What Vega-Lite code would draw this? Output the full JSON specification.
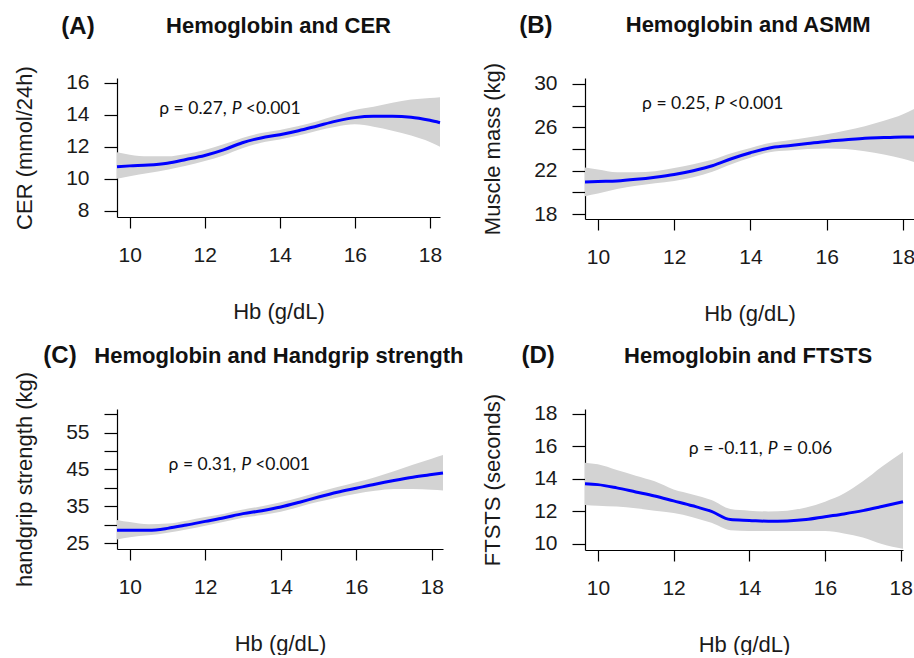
{
  "$schema": "https://vega.github.io/schema/vega-lite/v6.json",
  "padding": {"left": 13, "top": 14, "right": 0, "bottom": 0},
  "background": "white",
  "config": {
    "view": {"stroke": null},
    "font": "Liberation Sans",
    "axis": {"grid": false, "domainColor": "#000", "tickColor": "#000", "domainWidth": 1.2, "tickWidth": 1.2, "labelColor": "#1a1a1a", "titleColor": "#1a1a1a", "labelFont": "Liberation Sans", "titleFont": "Liberation Sans", "labelFontSize": 21, "titleFontSize": 22, "titleFontWeight": "normal", "labelOverlap": false, "labelFlush": false, "tickCount": 20},
    "axisX": {"tickSize": 11, "labelPadding": 16, "titlePadding": 36},
    "axisY": {"tickSize": 13, "labelPadding": 15, "titlePadding": 29}
  },
  "datasets": {
    "cer": [
      {"hb": 9.66, "fit": 10.75, "lo": 10.0, "hi": 11.65},
      {"hb": 10.0, "fit": 10.8, "lo": 10.15, "hi": 11.5},
      {"hb": 10.5, "fit": 10.85, "lo": 10.35, "hi": 11.4},
      {"hb": 11.0, "fit": 10.97, "lo": 10.55, "hi": 11.4},
      {"hb": 11.5, "fit": 11.2, "lo": 10.8, "hi": 11.55},
      {"hb": 12.0, "fit": 11.45, "lo": 11.1, "hi": 11.8},
      {"hb": 12.5, "fit": 11.8, "lo": 11.45, "hi": 12.15},
      {"hb": 13.0, "fit": 12.25, "lo": 11.9, "hi": 12.55},
      {"hb": 13.5, "fit": 12.55, "lo": 12.25, "hi": 12.85},
      {"hb": 14.0, "fit": 12.75, "lo": 12.45, "hi": 13.05},
      {"hb": 14.5, "fit": 13.0, "lo": 12.7, "hi": 13.3},
      {"hb": 15.0, "fit": 13.3, "lo": 13.0, "hi": 13.6},
      {"hb": 15.5, "fit": 13.6, "lo": 13.25, "hi": 13.95},
      {"hb": 16.0, "fit": 13.82, "lo": 13.4, "hi": 14.3},
      {"hb": 16.5, "fit": 13.9, "lo": 13.25, "hi": 14.5},
      {"hb": 17.0, "fit": 13.9, "lo": 13.0, "hi": 14.75},
      {"hb": 17.5, "fit": 13.85, "lo": 12.7, "hi": 14.95},
      {"hb": 18.0, "fit": 13.65, "lo": 12.3, "hi": 15.05},
      {"hb": 18.27, "fit": 13.5, "lo": 12.0, "hi": 15.1}
    ],
    "asmm": [
      {"hb": 9.66, "fit": 20.95, "lo": 19.65, "hi": 22.3},
      {"hb": 10.0, "fit": 21.0, "lo": 19.9, "hi": 22.1},
      {"hb": 10.5, "fit": 21.05, "lo": 20.3, "hi": 21.85},
      {"hb": 11.0, "fit": 21.2, "lo": 20.6, "hi": 21.85},
      {"hb": 11.5, "fit": 21.4, "lo": 20.85, "hi": 21.95},
      {"hb": 12.0, "fit": 21.65, "lo": 21.05, "hi": 22.25},
      {"hb": 12.5, "fit": 22.0, "lo": 21.4, "hi": 22.6},
      {"hb": 13.0, "fit": 22.45, "lo": 21.9, "hi": 23.0},
      {"hb": 13.5, "fit": 23.1, "lo": 22.6, "hi": 23.6},
      {"hb": 14.0, "fit": 23.65, "lo": 23.2, "hi": 24.1},
      {"hb": 14.5, "fit": 24.1, "lo": 23.7, "hi": 24.55},
      {"hb": 15.0, "fit": 24.3, "lo": 23.85, "hi": 24.8},
      {"hb": 15.5, "fit": 24.5, "lo": 24.0, "hi": 25.05},
      {"hb": 16.0, "fit": 24.7, "lo": 24.05, "hi": 25.35},
      {"hb": 16.5, "fit": 24.85, "lo": 24.0, "hi": 25.7},
      {"hb": 17.0, "fit": 25.0, "lo": 23.8, "hi": 26.1},
      {"hb": 17.5, "fit": 25.05, "lo": 23.5, "hi": 26.6},
      {"hb": 18.0, "fit": 25.1, "lo": 23.1, "hi": 27.2},
      {"hb": 18.29, "fit": 25.1, "lo": 22.8, "hi": 27.7}
    ],
    "hgs": [
      {"hb": 9.66, "fit": 28.5, "lo": 26.0, "hi": 31.3},
      {"hb": 10.0, "fit": 28.5, "lo": 26.6, "hi": 30.7},
      {"hb": 10.5, "fit": 28.5, "lo": 27.1, "hi": 30.1},
      {"hb": 11.0, "fit": 29.0, "lo": 27.8, "hi": 30.3},
      {"hb": 11.5, "fit": 29.9, "lo": 28.7, "hi": 31.1},
      {"hb": 12.0, "fit": 30.9, "lo": 29.7, "hi": 32.1},
      {"hb": 12.5, "fit": 31.9, "lo": 30.8, "hi": 33.0},
      {"hb": 13.0, "fit": 33.0, "lo": 31.9, "hi": 34.1},
      {"hb": 13.5, "fit": 33.8, "lo": 32.6, "hi": 35.0},
      {"hb": 14.0, "fit": 34.8, "lo": 33.5, "hi": 36.1},
      {"hb": 14.5, "fit": 36.1, "lo": 34.9, "hi": 37.4},
      {"hb": 15.0, "fit": 37.5, "lo": 36.2, "hi": 38.8},
      {"hb": 15.5, "fit": 38.8, "lo": 37.4, "hi": 40.2},
      {"hb": 16.0, "fit": 39.9, "lo": 38.4, "hi": 41.5},
      {"hb": 16.5, "fit": 41.0, "lo": 39.2, "hi": 42.9},
      {"hb": 17.0, "fit": 42.0, "lo": 39.7, "hi": 44.5},
      {"hb": 17.5, "fit": 42.9, "lo": 39.7, "hi": 46.3},
      {"hb": 18.0, "fit": 43.6, "lo": 39.5, "hi": 47.9},
      {"hb": 18.3, "fit": 44.0, "lo": 39.3, "hi": 48.9}
    ],
    "ftsts": [
      {"hb": 9.66, "fit": 13.7, "lo": 12.4, "hi": 15.0},
      {"hb": 10.0, "fit": 13.65, "lo": 12.35, "hi": 14.9},
      {"hb": 10.5, "fit": 13.45, "lo": 12.3, "hi": 14.55},
      {"hb": 11.0, "fit": 13.2, "lo": 12.2, "hi": 14.2},
      {"hb": 11.5, "fit": 12.95, "lo": 12.05, "hi": 13.85},
      {"hb": 12.0, "fit": 12.65, "lo": 11.9, "hi": 13.35},
      {"hb": 12.5, "fit": 12.35, "lo": 11.65, "hi": 13.05},
      {"hb": 13.0, "fit": 12.0, "lo": 11.3, "hi": 12.7},
      {"hb": 13.5, "fit": 11.5, "lo": 10.85, "hi": 12.15},
      {"hb": 14.0, "fit": 11.45, "lo": 10.8, "hi": 12.05},
      {"hb": 14.5, "fit": 11.4, "lo": 10.8, "hi": 12.0},
      {"hb": 15.0, "fit": 11.42, "lo": 10.8, "hi": 12.05},
      {"hb": 15.5, "fit": 11.5, "lo": 10.8, "hi": 12.25},
      {"hb": 16.0, "fit": 11.68, "lo": 10.8, "hi": 12.6},
      {"hb": 16.5, "fit": 11.85, "lo": 10.65, "hi": 13.1},
      {"hb": 17.0, "fit": 12.05, "lo": 10.4, "hi": 13.85},
      {"hb": 17.5, "fit": 12.3, "lo": 10.0, "hi": 14.75},
      {"hb": 18.06, "fit": 12.6, "lo": 9.7, "hi": 15.65}
    ]
  },
  "columns": 2,
  "bounds": "flush",
  "spacing": {"row": 190, "column": 142},
  "concat": [
    {
      "width": 323, "height": 139,
      "layer": [
        {"data": {"name": "cer"}, "mark": {"type": "area", "color": "#d3d3d3", "interpolate": "monotone"},
         "encoding": {
           "x": {"field": "hb", "type": "quantitative", "title": "Hb (g/dL)", "scale": {"domain": [9.66, 18.27], "nice": false, "zero": false}, "axis": {"values": [10, 12, 14, 16, 18], "format": "d", "tickCount": 20, "labelOverlap": false}},
           "y": {"field": "lo", "type": "quantitative", "title": "CER (mmol/24h)", "scale": {"domain": [7.6, 16.3], "nice": false, "zero": false}, "axis": {"values": [8, 10, 12, 14, 16], "format": "d", "tickCount": 20, "labelOverlap": false}},
           "y2": {"field": "hi"}}},
        {"data": {"name": "cer"}, "mark": {"type": "line", "color": "#0000ff", "strokeWidth": 3, "interpolate": "monotone"},
         "encoding": {
           "x": {"field": "hb", "type": "quantitative", "title": "Hb (g/dL)", "axis": {"values": [10, 12, 14, 16, 18], "format": "d", "tickCount": 20, "labelOverlap": false}},
           "y": {"field": "fit", "type": "quantitative", "title": "CER (mmol/24h)", "axis": {"values": [8, 10, 12, 14, 16], "format": "d", "tickCount": 20, "labelOverlap": false}}}},
        {"data": {"values": [{"t": "(A)"}]}, "mark": {"type": "text", "fontSize": 24, "fontWeight": "bold", "align": "center", "baseline": "alphabetic", "color": "#111"},
         "encoding": {"x": {"datum": 8.62}, "y": {"datum": 19.05}, "text": {"field": "t"}}},
        {"data": {"values": [{"t": "Hemoglobin and CER"}]}, "mark": {"type": "text", "fontSize": 22, "fontWeight": "bold", "align": "center", "baseline": "alphabetic", "color": "#111"},
         "encoding": {"x": {"datum": 13.965}, "y": {"datum": 19.11}, "text": {"field": "t"}}},
        {"data": {"values": [{"t": "ρ = 0.27,"}]}, "mark": {"type": "text", "font": "Lato", "fontSize": 17.5, "align": "right", "baseline": "alphabetic", "dx": -5, "color": "#111"},
         "encoding": {"x": {"datum": 12.72}, "y": {"datum": 14.05}, "text": {"field": "t"}}},
        {"data": {"values": [{"t": "P"}]}, "mark": {"type": "text", "font": "Lato", "fontSize": 17.5, "fontStyle": "italic", "align": "left", "baseline": "alphabetic", "color": "#111"},
         "encoding": {"x": {"datum": 12.72}, "y": {"datum": 14.05}, "text": {"field": "t"}}},
        {"data": {"values": [{"t": "<0.001"}]}, "mark": {"type": "text", "font": "Lato", "fontSize": 17.5, "align": "left", "baseline": "alphabetic", "dx": 14, "color": "#111"},
         "encoding": {"x": {"datum": 12.72}, "y": {"datum": 14.05}, "text": {"field": "t"}}}
      ]
    },
    {
      "width": 329, "height": 141,
      "layer": [
        {"data": {"name": "asmm"}, "mark": {"type": "area", "color": "#d3d3d3", "interpolate": "monotone"},
         "encoding": {
           "x": {"field": "hb", "type": "quantitative", "title": "Hb (g/dL)", "scale": {"domain": [9.66, 18.29], "nice": false, "zero": false}, "axis": {"values": [10, 12, 14, 16, 18], "format": "d", "tickCount": 20, "labelOverlap": false}},
           "y": {"field": "lo", "type": "quantitative", "title": "Muscle mass (kg)", "scale": {"domain": [17.54, 30.55], "nice": false, "zero": false}, "axis": {"values": [18, 20, 22, 24, 26, 28, 30], "format": "d", "tickCount": 20, "labelOverlap": false, "labelExpr": "datum.value % 4 == 2 ? datum.label : ''"}},
           "y2": {"field": "hi"}}},
        {"data": {"name": "asmm"}, "mark": {"type": "line", "color": "#0000ff", "strokeWidth": 3, "interpolate": "monotone"},
         "encoding": {
           "x": {"field": "hb", "type": "quantitative", "title": "Hb (g/dL)", "axis": {"values": [10, 12, 14, 16, 18], "format": "d", "tickCount": 20, "labelOverlap": false}},
           "y": {"field": "fit", "type": "quantitative", "title": "Muscle mass (kg)", "axis": {"values": [18, 20, 22, 24, 26, 28, 30], "format": "d", "tickCount": 20, "labelOverlap": false, "labelExpr": "datum.value % 4 == 2 ? datum.label : ''"}}}},
        {"data": {"values": [{"t": "(B)"}]}, "mark": {"type": "text", "fontSize": 24, "fontWeight": "bold", "align": "center", "baseline": "alphabetic", "color": "#111"},
         "encoding": {"x": {"datum": 8.37}, "y": {"datum": 34.7}, "text": {"field": "t"}}},
        {"data": {"values": [{"t": "Hemoglobin and ASMM"}]}, "mark": {"type": "text", "fontSize": 22, "fontWeight": "bold", "align": "center", "baseline": "alphabetic", "color": "#111"},
         "encoding": {"x": {"datum": 13.94}, "y": {"datum": 34.79}, "text": {"field": "t"}}},
        {"data": {"values": [{"t": "ρ = 0.25,"}]}, "mark": {"type": "text", "font": "Lato", "fontSize": 17.5, "align": "right", "baseline": "alphabetic", "dx": -5, "color": "#111"},
         "encoding": {"x": {"datum": 13.06}, "y": {"datum": 27.69}, "text": {"field": "t"}}},
        {"data": {"values": [{"t": "P"}]}, "mark": {"type": "text", "font": "Lato", "fontSize": 17.5, "fontStyle": "italic", "align": "left", "baseline": "alphabetic", "color": "#111"},
         "encoding": {"x": {"datum": 13.06}, "y": {"datum": 27.69}, "text": {"field": "t"}}},
        {"data": {"values": [{"t": "<0.001"}]}, "mark": {"type": "text", "font": "Lato", "fontSize": 17.5, "align": "left", "baseline": "alphabetic", "dx": 14, "color": "#111"},
         "encoding": {"x": {"datum": 13.06}, "y": {"datum": 27.69}, "text": {"field": "t"}}}
      ]
    },
    {
      "width": 326, "height": 140,
      "layer": [
        {"data": {"name": "hgs"}, "mark": {"type": "area", "color": "#d3d3d3", "interpolate": "monotone"},
         "encoding": {
           "x": {"field": "hb", "type": "quantitative", "title": "Hb (g/dL)", "scale": {"domain": [9.66, 18.3], "nice": false, "zero": false}, "axis": {"values": [10, 12, 14, 16, 18], "format": "d", "tickCount": 20, "labelOverlap": false}},
           "y": {"field": "lo", "type": "quantitative", "title": "handgrip strength (kg)", "scale": {"domain": [23.4, 61.4], "nice": false, "zero": false}, "axis": {"values": [25, 30, 35, 40, 45, 50, 55, 60], "format": "d", "tickCount": 20, "labelOverlap": false, "labelExpr": "datum.value % 10 == 5 ? datum.label : ''"}},
           "y2": {"field": "hi"}}},
        {"data": {"name": "hgs"}, "mark": {"type": "line", "color": "#0000ff", "strokeWidth": 3, "interpolate": "monotone"},
         "encoding": {
           "x": {"field": "hb", "type": "quantitative", "title": "Hb (g/dL)", "axis": {"values": [10, 12, 14, 16, 18], "format": "d", "tickCount": 20, "labelOverlap": false}},
           "y": {"field": "fit", "type": "quantitative", "title": "handgrip strength (kg)", "axis": {"values": [25, 30, 35, 40, 45, 50, 55, 60], "format": "d", "tickCount": 20, "labelOverlap": false, "labelExpr": "datum.value % 10 == 5 ? datum.label : ''"}}}},
        {"data": {"values": [{"t": "(C)"}]}, "mark": {"type": "text", "fontSize": 24, "fontWeight": "bold", "align": "center", "baseline": "alphabetic", "color": "#111"},
         "encoding": {"x": {"datum": 8.15}, "y": {"datum": 73.9}, "text": {"field": "t"}}},
        {"data": {"values": [{"t": "Hemoglobin and Handgrip strength"}]}, "mark": {"type": "text", "fontSize": 22, "fontWeight": "bold", "align": "center", "baseline": "alphabetic", "color": "#111"},
         "encoding": {"x": {"datum": 13.95}, "y": {"datum": 73.9}, "text": {"field": "t"}}},
        {"data": {"values": [{"t": "ρ = 0.31,"}]}, "mark": {"type": "text", "font": "Lato", "fontSize": 17.5, "align": "right", "baseline": "alphabetic", "dx": -5, "color": "#111"},
         "encoding": {"x": {"datum": 12.95}, "y": {"datum": 44.84}, "text": {"field": "t"}}},
        {"data": {"values": [{"t": "P"}]}, "mark": {"type": "text", "font": "Lato", "fontSize": 17.5, "fontStyle": "italic", "align": "left", "baseline": "alphabetic", "color": "#111"},
         "encoding": {"x": {"datum": 12.95}, "y": {"datum": 44.84}, "text": {"field": "t"}}},
        {"data": {"values": [{"t": "<0.001"}]}, "mark": {"type": "text", "font": "Lato", "fontSize": 17.5, "align": "left", "baseline": "alphabetic", "dx": 14, "color": "#111"},
         "encoding": {"x": {"datum": 12.95}, "y": {"datum": 44.84}, "text": {"field": "t"}}}
      ]
    },
    {
      "width": 318, "height": 141,
      "layer": [
        {"data": {"name": "ftsts"}, "mark": {"type": "area", "color": "#d3d3d3", "interpolate": "monotone"},
         "encoding": {
           "x": {"field": "hb", "type": "quantitative", "title": "Hb (g/dL)", "scale": {"domain": [9.66, 18.06], "nice": false, "zero": false}, "axis": {"values": [10, 12, 14, 16, 18], "format": "d", "tickCount": 20, "labelOverlap": false}},
           "y": {"field": "lo", "type": "quantitative", "title": "FTSTS (seconds)", "scale": {"domain": [9.63, 18.3], "nice": false, "zero": false}, "axis": {"values": [10, 12, 14, 16, 18], "format": "d", "tickCount": 20, "labelOverlap": false}},
           "y2": {"field": "hi"}}},
        {"data": {"name": "ftsts"}, "mark": {"type": "line", "color": "#0000ff", "strokeWidth": 3, "interpolate": "monotone"},
         "encoding": {
           "x": {"field": "hb", "type": "quantitative", "title": "Hb (g/dL)", "axis": {"values": [10, 12, 14, 16, 18], "format": "d", "tickCount": 20, "labelOverlap": false}},
           "y": {"field": "fit", "type": "quantitative", "title": "FTSTS (seconds)", "axis": {"values": [10, 12, 14, 16, 18], "format": "d", "tickCount": 20, "labelOverlap": false}}}},
        {"data": {"values": [{"t": "(D)"}]}, "mark": {"type": "text", "fontSize": 24, "fontWeight": "bold", "align": "center", "baseline": "alphabetic", "color": "#111"},
         "encoding": {"x": {"datum": 8.42}, "y": {"datum": 21.13}, "text": {"field": "t"}}},
        {"data": {"values": [{"t": "Hemoglobin and FTSTS"}]}, "mark": {"type": "text", "fontSize": 22, "fontWeight": "bold", "align": "center", "baseline": "alphabetic", "color": "#111"},
         "encoding": {"x": {"datum": 13.97}, "y": {"datum": 21.13}, "text": {"field": "t"}}},
        {"data": {"values": [{"t": "ρ = -0.11,"}]}, "mark": {"type": "text", "font": "Lato", "fontSize": 17.5, "align": "right", "baseline": "alphabetic", "dx": -5, "color": "#111"},
         "encoding": {"x": {"datum": 14.49}, "y": {"datum": 15.53}, "text": {"field": "t"}}},
        {"data": {"values": [{"t": "P"}]}, "mark": {"type": "text", "font": "Lato", "fontSize": 17.5, "fontStyle": "italic", "align": "left", "baseline": "alphabetic", "color": "#111"},
         "encoding": {"x": {"datum": 14.49}, "y": {"datum": 15.53}, "text": {"field": "t"}}},
        {"data": {"values": [{"t": "= 0.06"}]}, "mark": {"type": "text", "font": "Lato", "fontSize": 17.5, "align": "left", "baseline": "alphabetic", "dx": 15, "color": "#111"},
         "encoding": {"x": {"datum": 14.49}, "y": {"datum": 15.53}, "text": {"field": "t"}}}
      ]
    }
  ]
}
